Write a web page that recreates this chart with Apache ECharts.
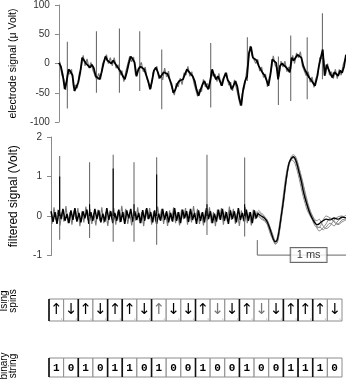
<!DOCTYPE html>
<html><head><meta charset="utf-8">
<script src="https://cdn.jsdelivr.net/npm/echarts@6/dist/echarts.min.js"></script>
<style>html,body{margin:0;padding:0;background:#fff}#c{width:346px;height:383px}</style>
</head><body><div id="c"></div>
<script>
// ---------- DATA ----------
const sampleStep = 2; // time units per sample
const electrodeBlack = [1,-5,-20,-44,-30,-10,-14,-20,-47,-40,
-32,-15,10,5,0,3,-7,-2,-8,-22,
-20,-27,-15,0,12,5,8,0,5,2,
-5,-10,-15,-22,-27,-15,0,12,8,2,
-22,-10,-5,-4,-10,-13,-30,-44,-30,-12,
-7,-15,-25,-28,-15,-13,-18,-20,-35,-50,
-45,-35,-30,-32,-27,-18,-10,-12,-18,-22,
-30,-45,-55,-45,-36,-30,-38,-44,-30,-10,
-20,-27,-22,-25,-38,-25,-16,-28,-33,-44,
-38,-30,-40,-60,-72,-44,-30,-22,18,29,
10,8,5,-4,-10,-16,-20,-28,-38,-20,
7,5,1,-27,-4,0,1,-6,-10,-15,
10,5,8,15,18,10,-4,-12,-18,-24,
-28,-30,-38,-25,-5,10,24,-21,-2,-10,
-18,-24,-15,-18,-21,-12,-16,-5,15];
const electrodeGray = [3,-20,-26,-45,-14,-18,-10,-41,-37,-42,
-17,-8,14,-4,8,-8,2,-11,-9,-28,
-17,-27,-1,0,15,0,10,-4,10,-8,
-2,-20,-12,-31,-14,-14,12,3,11,-20,
-13,-14,2,-14,-6,-28,-30,-43,-15,-17,
-5,-26,-20,-28,-8,-23,-13,-34,-36,-54,
-34,-40,-25,-36,-16,-20,-5,-22,-14,-32,
-31,-56,-44,-48,-27,-40,-34,-43,-14,-22,
-18,-31,-17,-38,-26,-28,-16,-37,-32,-47,
-28,-42,-44,-72,-51,-43,-20,3,30,14,
15,0,7,-13,-6,-24,-18,-40,-23,-12,
13,-3,-7,-22,4,-6,4,-14,-6,-10,
14,0,18,10,20,-4,-2,-21,-14,-32,
-23,-41,-25,-21,10,11,8,-18,0,-20,
-14,-26,-10,-26,-10,-20,-3,8];
const spikeTimes = [8.7, 38.7, 62.4, 83.3, 106, 156.5, 194.3, 226.3, 239, 256, 271.7];
const electrodeSpikeTop = [37, 55, 60, 55, 24, 35, 45, 12, 48, 45, 86];
const electrodeSpikeBottom = [-77, -50, -50, -47, -78, -75, -30, -71, -64, -61, -27];
const filteredSpikeTop = [1.52, 1.36, 1.55, 1.36, 1.49, 1.55, 1.48];
const filteredSpikeBottom = [-0.6, -0.56, -0.65, -0.65, -0.73, -0.48, -0.52];
const filteredSpikeDarkTop = [1.0, 0.3, 1.2, 0.3, 1.05, 0.3, 0.3];
const noiseBlack = [0.12,-0.15,0.1,-0.2,0.15,-0.08,0.18,-0.12,0.05,-0.18,
0.14,-0.1,0.2,-0.14,0.08,-0.16,0.12,-0.06,0.16,-0.2,
0.1,-0.12,0.18,-0.08,0.14,-0.16,0.06,-0.14,0.2,-0.1,
0.12,-0.18,0.08,-0.12,0.16,-0.15,0.1,-0.2,0.14,-0.06,
0.18,-0.14,0.12,-0.1,0.08,-0.18,0.15,-0.12,0.2,-0.08,
0.1,-0.16,0.14,-0.2,0.06,-0.12,0.18,-0.1,0.12,-0.16,
0.08,-0.14,0.2,-0.12,0.1,-0.18,0.16,-0.06,0.12,-0.15,
0.18,-0.1,0.08,-0.2,0.14,-0.12,0.1,-0.16,0.2,-0.08,
0.12,-0.18,0.06,-0.14,0.16,-0.1,0.18,-0.12,0.1,-0.2,
0.14,-0.08,0.12,-0.16,0.2,-0.1,0.08,-0.14,0.16,-0.12,
0.1,-0.18,0.14,-0.06,0.08];
const noiseGray = [-0.2,0.22,-0.1,0.16,-0.24,0.08,-0.14,0.25,-0.18,0.1,
-0.22,0.14,-0.08,0.2,-0.26,0.12,-0.16,0.24,-0.1,0.18,
-0.2,0.08,-0.24,0.16,-0.12,0.22,-0.18,0.1,-0.25,0.14,
-0.08,0.2,-0.22,0.12,-0.16,0.26,-0.1,0.18,-0.2,0.08,
-0.24,0.14,-0.12,0.22,-0.18,0.1,-0.26,0.16,-0.08,0.2,
-0.22,0.12,-0.14,0.24,-0.1,0.18,-0.2,0.08,-0.25,0.14,
-0.12,0.22,-0.18,0.1,-0.24,0.16,-0.08,0.2,-0.22,0.12,
-0.16,0.25,-0.1,0.18,-0.2,0.08,-0.24,0.14,-0.12,0.22,
-0.18,0.1,-0.26,0.16,-0.08,0.2,-0.22,0.12,-0.14,0.24,
-0.1,0.18,-0.2,0.08,-0.25,0.14,-0.12,0.22,-0.18,0.1,
-0.24,0.16,-0.08,0.12];
const waveTimes = [208,211,214,217,220,223,225,227,229,231,233,235,237,239,241,243,245,247,249,251,253,255,257,259,261,263,265,267,269,271,273,276,280,284,288,292,296];
const waveA = [0.05,0,-0.05,-0.15,-0.35,-0.58,-0.65,-0.6,-0.35,0,0.35,0.75,1.1,1.35,1.45,1.5,1.45,1.3,1.1,0.9,0.65,0.45,0.28,0.12,0,-0.1,-0.18,-0.22,-0.2,-0.15,-0.12,-0.08,-0.1,-0.05,-0.08,-0.03,-0.05];
const waveB = [0.1,0.05,-0.02,-0.1,-0.3,-0.55,-0.7,-0.68,-0.45,-0.1,0.25,0.65,1.05,1.35,1.5,1.55,1.52,1.4,1.2,1.0,0.78,0.55,0.35,0.18,0.05,-0.05,-0.15,-0.3,-0.38,-0.35,-0.3,-0.2,-0.05,-0.12,-0.2,-0.1,-0.08];
const waveC = [0.02,-0.05,-0.1,-0.22,-0.45,-0.62,-0.68,-0.55,-0.25,0.1,0.5,0.9,1.2,1.38,1.42,1.4,1.32,1.15,0.95,0.72,0.5,0.32,0.15,0.05,-0.05,-0.12,-0.2,-0.25,-0.3,-0.22,-0.1,0,-0.05,-0.15,-0.22,-0.15,-0.1];
const waveD = [0.15,0.08,0.0,-0.12,-0.3,-0.5,-0.62,-0.62,-0.4,-0.05,0.3,0.7,1.05,1.3,1.42,1.48,1.48,1.38,1.2,1.02,0.82,0.6,0.4,0.22,0.08,-0.02,-0.1,-0.12,-0.08,-0.15,-0.25,-0.32,-0.25,-0.1,-0.02,0.0,-0.05];
const waveE = [0.0,-0.08,-0.12,-0.2,-0.4,-0.6,-0.72,-0.66,-0.4,-0.02,0.4,0.8,1.12,1.35,1.46,1.47,1.4,1.25,1.05,0.85,0.62,0.42,0.25,0.1,-0.02,-0.15,-0.25,-0.3,-0.28,-0.3,-0.35,-0.28,-0.18,-0.25,-0.12,-0.05,0.02];
const scaleBarTimes = [207, 296];
const scaleBarLevels = [-0.61, -0.99];
const scaleBarText = '1 ms';
const isingSpins = ['↑','↓','↑','↓','↑','↑','↓','↑','↓','↓','↑','↓','↓','↑','↓','↓','↑','↑','↑','↓'];
const binaryString = ['1','0','1','0','1','1','0','1','0','0','1','0','0','1','0','0','1','1','1','0'];
const electrodeTicks = [-100, -50, 0, 50, 100];
const filteredTicks = [-1, 0, 1, 2];
const electrodeTitle = 'electrode signal (μ Volt)';
const filteredTitle = 'filtered signal (Volt)';
const isingTitle = 'Ising\nspins';
const binaryTitle = 'binary\nstring';

// ---------- BUILD ----------
const FONT = 'Liberation Sans, Arial, sans-serif';
const AX = '#8a8a8a';
const grayArrows = [7, 11, 14];
const series = [];
const toXY = (vals, offset) => vals.map((v, i) => [offset + i * sampleStep, v]);

function vline(color, width) {
  return function (params, api) {
    const a = api.coord([api.value(0), api.value(1)]);
    const b = api.coord([api.value(0), api.value(2)]);
    return { type: 'line', shape: { x1: a[0], y1: a[1], x2: b[0], y2: b[1] }, style: { stroke: color, lineWidth: width } };
  };
}
function cells(labels, font, isIsing) {
  return function (params, api) {
    const i = params.dataIndex;
    const b = api.coord([i, 0]);
    const t = api.coord([i, 1]);
    const w = api.size([1, 0])[0];
    const x0 = b[0] - w / 2, y0 = t[1], h = b[1] - t[1];
    const ch = [
      { type: 'rect', shape: { x: x0, y: y0, width: w, height: h }, style: { fill: '#fff', stroke: '#8c8c8c', lineWidth: 1 } },
      { type: 'text', style: { x: b[0], y: y0 + h / 2 + (isIsing ? 0 : 0.5), text: labels[i], align: 'center', verticalAlign: 'middle', font: font,
        fill: (isIsing && grayArrows.indexOf(i) >= 0) ? '#777' : '#000' } }
    ];
    if (binaryString[i] === '1') ch.push({ type: 'line', shape: { x1: x0, y1: y0, x2: x0, y2: y0 + h }, style: { stroke: '#111', lineWidth: 1.6 } });
    if (isIsing) ch.push({ type: 'circle', shape: { cx: x0 + w - 2, cy: y0 + h - 2, r: 0.6 }, style: { fill: '#999' } });
    return { type: 'group', children: ch };
  };
}

// top panel
series.push({ type: 'line', xAxisIndex: 0, yAxisIndex: 0, data: toXY(electrodeGray, 1), showSymbol: false, symbol: 'none', lineStyle: { color: '#7a7a7a', width: 1.2 }, z: 2 });
series.push({ type: 'custom', xAxisIndex: 0, yAxisIndex: 0, data: spikeTimes.map((t, i) => [t, electrodeSpikeTop[i], electrodeSpikeBottom[i]]), encode: { x: 0, y: [1, 2] }, renderItem: vline('#6e6e6e', 1.1), z: 3 });
series.push({ type: 'line', xAxisIndex: 0, yAxisIndex: 0, data: toXY(electrodeBlack, 0), showSymbol: false, symbol: 'none', lineStyle: { color: '#000', width: 1.8 }, z: 4 });

// middle panel
series.push({ type: 'line', xAxisIndex: 1, yAxisIndex: 1, data: toXY(noiseGray, 1), showSymbol: false, symbol: 'none', lineStyle: { color: '#7a7a7a', width: 1.1 }, z: 2 });
series.push({ type: 'line', xAxisIndex: 1, yAxisIndex: 1, data: toXY(noiseBlack, 0), showSymbol: false, symbol: 'none', lineStyle: { color: '#000', width: 1.5 }, z: 3 });
series.push({ type: 'custom', xAxisIndex: 1, yAxisIndex: 1, data: filteredSpikeTop.map((v, i) => [spikeTimes[i], v, filteredSpikeBottom[i]]), encode: { x: 0, y: [1, 2] }, renderItem: vline('#6e6e6e', 1.1), z: 4 });
series.push({ type: 'custom', xAxisIndex: 1, yAxisIndex: 1, data: filteredSpikeDarkTop.map((v, i) => [spikeTimes[i], v, 0]), encode: { x: 0, y: [1, 2] }, renderItem: vline('#000', 1.1), z: 5 });
[waveB, waveC, waveD, waveE].forEach(w => series.push({ type: 'line', xAxisIndex: 1, yAxisIndex: 1, data: waveTimes.map((t, i) => [t, w[i]]), showSymbol: false, symbol: 'none', smooth: 0.3, lineStyle: { color: '#8a8a8a', width: 1 }, z: 3 }));
series.push({ type: 'line', xAxisIndex: 1, yAxisIndex: 1, data: waveTimes.map((t, i) => [t, waveA[i]]), showSymbol: false, symbol: 'none', smooth: 0.3, lineStyle: { color: '#000', width: 1.3 }, z: 4 });
series.push({ type: 'line', xAxisIndex: 1, yAxisIndex: 1, data: [[scaleBarTimes[0], scaleBarLevels[0]], [scaleBarTimes[0], scaleBarLevels[1]], [scaleBarTimes[1], scaleBarLevels[1]]], showSymbol: false, symbol: 'none', lineStyle: { color: '#666', width: 1 }, z: 5 });
series.push({ type: 'scatter', xAxisIndex: 1, yAxisIndex: 1, data: [[(scaleBarTimes[0] + scaleBarTimes[1]) / 2 + 7, scaleBarLevels[1]]], symbolSize: 0, z: 6,
  label: { show: true, position: 'inside', formatter: scaleBarText, color: '#000', fontFamily: FONT, fontSize: 11, backgroundColor: '#fff', borderColor: '#444', borderWidth: 1, padding: [2, 6, 1, 6] } });

// cells
series.push({ type: 'custom', xAxisIndex: 2, yAxisIndex: 2, data: isingSpins.map((s, i) => [i, 1]), encode: { x: 0, y: 1 }, renderItem: cells(isingSpins, '15px DejaVu Sans', true) });
series.push({ type: 'custom', xAxisIndex: 3, yAxisIndex: 3, data: binaryString.map((s, i) => [i, 1]), encode: { x: 0, y: 1 }, renderItem: cells(binaryString, 'bold 11px Liberation Mono', false) });

function yVal(ticks, title, fs, gap) {
  return {
    type: 'value', min: ticks[0], max: ticks[ticks.length - 1], interval: ticks[1] - ticks[0],
    axisLine: { show: true, lineStyle: { color: AX, width: 1 } },
    axisTick: { show: true, length: 4, lineStyle: { color: AX } },
    axisLabel: { fontSize: 10, color: '#333', fontFamily: FONT, margin: 9 },
    splitLine: { show: false },
    name: title, nameLocation: 'middle', nameGap: gap, nameRotate: 90,
    nameTextStyle: { fontSize: fs, color: '#000', fontFamily: FONT }
  };
}
const hiddenVal = { type: 'value', min: 0, max: 296, show: false };

const option = {
  animation: false,
  textStyle: { fontFamily: FONT },
  grid: [
    { left: 50, top: 5, width: 296, height: 117 },
    { left: 50, top: 137, width: 296, height: 118.5 },
    { left: 49, top: 299, width: 293, height: 22 },
    { left: 49, top: 358, width: 293, height: 19 }
  ],
  xAxis: [
    Object.assign({ gridIndex: 0 }, hiddenVal),
    Object.assign({ gridIndex: 1 }, hiddenVal),
    { gridIndex: 2, type: 'category', data: isingSpins.map((s, i) => i), show: false },
    { gridIndex: 3, type: 'category', data: binaryString.map((s, i) => i), show: false }
  ],
  yAxis: [
    Object.assign({ gridIndex: 0 }, yVal(electrodeTicks, electrodeTitle, 10.5, 32)),
    Object.assign({ gridIndex: 1 }, yVal(filteredTicks, filteredTitle, 12, 31)),
    { gridIndex: 2, type: 'value', min: 0, max: 1, show: false },
    { gridIndex: 3, type: 'value', min: 0, max: 1, show: false }
  ],
  graphic: [
    { type: 'text', x: 8.5, y: 301, rotation: Math.PI / 2, style: { text: isingTitle, align: 'center', verticalAlign: 'middle', font: '10px Liberation Sans', lineHeight: 9.5, fill: '#000' } },
    { type: 'text', x: 8.5, y: 366, rotation: Math.PI / 2, style: { text: binaryTitle, align: 'center', verticalAlign: 'middle', font: '10px Liberation Sans', lineHeight: 9.5, fill: '#000' } }
  ],
  series: series
};
const chart = echarts.init(document.getElementById('c'), null, { renderer: 'canvas' });
chart.setOption(option);
</script></body></html>
